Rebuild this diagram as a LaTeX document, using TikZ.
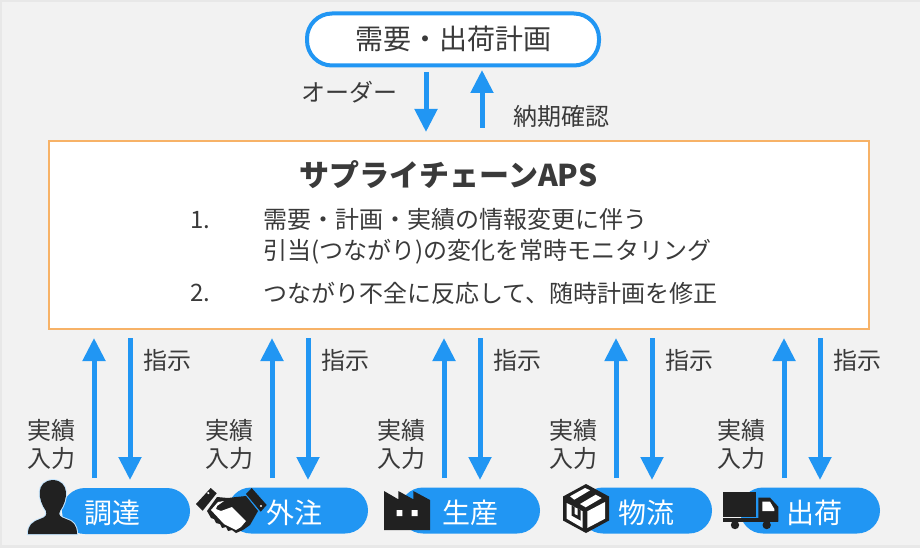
\documentclass[tikz,border=0pt]{standalone}
\usepackage{fontspec}
\setmainfont{Noto Sans CJK JP}
\usetikzlibrary{arrows.meta}
\definecolor{bluea}{HTML}{2196F3}
\definecolor{ink}{HTML}{3A3A3A}
\definecolor{icon}{HTML}{212121}
\definecolor{bg}{HTML}{F2F2F2}
\definecolor{rim}{HTML}{E8E8E8}
\definecolor{edgeo}{HTML}{F7B267}
\newcommand{\fs}[1]{\fontsize{#1pt}{#1pt}\selectfont}
\tikzset{
 flow/.style={draw=bluea,line width=5pt,-{Triangle[width=22pt,length=23pt]}},
 pill/.style={fill=bluea,rounded corners=23pt,minimum height=46pt,inner sep=0pt,draw=none},
 pilltext/.style={text=white,inner sep=0pt,font=\fs{28}},
 lab/.style={text=ink,inner sep=0pt,font=\fs{24},align=center},
 iconf/.style={fill=icon,draw=none},
}
\begin{document}
\begin{tikzpicture}[x=1pt,y=-1pt]
\useasboundingbox (0,0) rectangle (920,548);
\fill[rim] (0,0) rectangle (920,548);
\fill[bg] (2,2) rectangle (920,545);
\node[draw=bluea,line width=4pt,fill=white,rounded corners=25pt,minimum width=292pt,minimum height=52pt,inner sep=0pt] (plan) at (453,39.5) {};
\node[inner sep=0pt,text=ink,font=\fs{28}] (plant) at (453.5,39) {需要・出荷計画};
\node[draw=edgeo,line width=2pt,fill=white,minimum width=820pt,minimum height=188pt,inner sep=0pt] (aps) at (459,235) {};
\node[inner sep=0pt,text=ink,font=\fs{30}\bfseries] (apst) at (448.5,175) {サプライチェーンAPS};
\node[lab,anchor=west] (n1) at (190,220.5) {1.};
\node[lab,anchor=west,align=left] (i1) at (263,236) {需要・計画・実績の情報変更に伴う\\[7pt]引当(つながり)の変化を常時モニタリング};
\node[lab,anchor=west] (n2) at (190,293) {2.};
\node[lab,anchor=west] (i2) at (263,293) {つながり不全に反応して、随時計画を修正};
\coordinate (d0a) at (426,72); \coordinate (d0b) at (426,132);
\coordinate (u0a) at (482,128); \coordinate (u0b) at (482,70);
\draw[flow] (d0a) -- (d0b);
\draw[flow] (u0a) -- (u0b);
\node[lab,anchor=east] (ord) at (397.5,92.5) {オーダー};
\node[lab,anchor=west] (nok) at (513,116) {納期確認};
% pills
\node[pill,minimum width=128pt] (p1) at (126,511) {};
\node[pill,minimum width=140pt] (p2) at (298,510.5) {};
\node[pill,minimum width=140pt] (p3) at (470,510.5) {};
\node[pill,minimum width=132pt] (p4) at (646,510.5) {};
\node[pill,minimum width=140pt] (p5) at (810,510.5) {};
\node[pilltext] (t1) at (112.5,512.5) {調達};
\node[pilltext] (t2) at (294,512.5) {外注};
\node[pilltext] (t3) at (470.5,512.5) {生産};
\node[pilltext] (t4) at (646.5,512.5) {物流};
\node[pilltext] (t5) at (814.5,512.5) {出荷};
% connectors
\foreach \u/\d/\p [count=\i] in {94/130/p1,272/308/p2,444/480/p3,616/652/p4,784/820/p5}{
 \coordinate (ua\i) at (\u,478); \coordinate (ub\i) at (\u,338);
 \coordinate (da\i) at (\d,338); \coordinate (db\i) at (\d,480);
 \draw[flow] (ua\i) -- (ub\i);
 \draw[flow] (da\i) -- (db\i);
 \node[lab] (zi\i) at (\d+37.5,360.5) {指示};
 \node[lab] (ji\i) at (\u-42.5,444.5) {実績\\[4pt]入力};
}
% person
\path[iconf,draw=white!75!bluea,line width=2pt] (28,534) .. controls (28,525) and (32,522) .. (40,519) .. controls (46,517) and (47,515) .. (46,511) .. controls (38,500) and (35,481) .. (53,480) .. controls (70,481) and (68,500) .. (60,511) .. controls (58,515) and (60,517) .. (66,519) .. controls (73,521) and (77,525) .. (77,534) -- cycle;
\fill[iconf] (28,534) .. controls (28,525) and (32,522) .. (40,519) .. controls (46,517) and (47,515) .. (46,511) .. controls (38,500) and (35,481) .. (53,480) .. controls (70,481) and (68,500) .. (60,511) .. controls (58,515) and (60,517) .. (66,519) .. controls (73,521) and (77,525) .. (77,534) -- cycle;
% handshake
\fill[iconf] (196,504) -- (210.7,488) -- (216.7,493.3) -- (202.7,510.7) -- cycle;
\fill[iconf] (246,494) -- (251.7,488) -- (266.7,505) -- (260.7,511.7) -- cycle;
\fill[white] (208.3,493) circle (1.2pt) (261,506) circle (1.2pt);
\fill[iconf] (207,511) -- (217,497) -- (228,498) -- (236,497) -- (246,496) -- (258,511) -- (254,518) -- (250,525) -- (243,530) -- (236,533) -- (232,530) -- (228,531) -- (226,527) -- (222,528) -- (220,524) -- (216,523) -- (214,519) -- (211,518) -- cycle;
\fill[white] (211,510) -- (218,502) -- (224,501) -- (217,506) -- (216,509) -- (221,511) -- (232,507) -- (246,521) -- (241,527) -- (236,530) -- (224,524) -- cycle;
% factory
\fill[iconf] (384,530) -- (384,491) -- (398.3,499.3) -- (398.3,491) -- (413.3,499.3) -- (413.3,491) -- (430,500) -- (430,530) -- cycle;
\fill[white] (396.7,510) rectangle (402.3,516) (411.7,510) rectangle (417.7,516);
% box
\fill[iconf] (586,484) -- (609,496.5) -- (609,520.5) -- (586,533) -- (563,520.5) -- (563,496.5) -- cycle;
\fill[white] (566.7,503) -- (582.7,511.3) -- (582.7,528) -- (566.7,518.7) -- cycle;
\fill[white] (587.3,511.3) -- (605,502) -- (605,518.7) -- (587.3,528) -- cycle;
\fill[white] (570,496.3) -- (585,488) -- (590,490.3) -- (574.3,499.7) -- cycle;
\fill[white] (580,504) -- (595.7,494.7) -- (601.7,498) -- (585.7,507.3) -- cycle;
\fill[iconf] (571.5,505.5) -- (574.5,507) -- (574.5,514) -- (577.5,515.5) -- (577.5,508.5) -- (580.5,510) -- (580.5,520.5) -- (571.5,515.5) -- cycle;
% truck
\fill[iconf] (723,492.3) rectangle (756.3,516.7);
\fill[iconf] (723,518) rectangle (778.3,522);
\fill[iconf] (758.3,497.7) -- (770,497.7) -- (778.3,506.7) -- (778.3,521.7) -- (758.3,521.7) -- cycle;
\fill[white] (762.3,501.7) -- (770,501.7) -- (774.3,509) -- (774.3,511) -- (762.3,511) -- cycle;
\fill[iconf] (735,525) circle (4.2pt) (766.7,525) circle (4.2pt);
\end{tikzpicture}
\end{document}
